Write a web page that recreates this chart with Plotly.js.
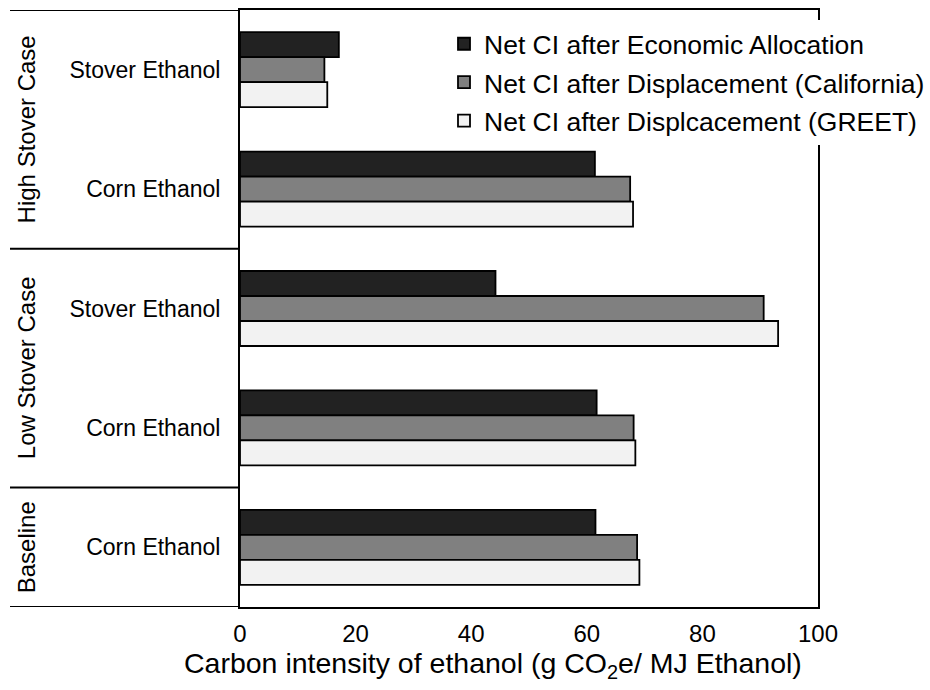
<!DOCTYPE html>
<html>
<head>
<meta charset="utf-8">
<script src="https://cdn.plot.ly/plotly-3.0.1.min.js"></script>
<style>
  html, body { margin: 0; padding: 0; background: #ffffff; }
  #chart { width: 930px; height: 690px; }
</style>
</head>
<body>
<div id="chart"></div>
<script>
// Fuel pathways, listed top to bottom
const categories = ['Stover Ethanol', 'Corn Ethanol', 'Stover Ethanol', 'Corn Ethanol', 'Corn Ethanol'];
// Scenario each pathway belongs to
const scenarios = ['High Stover Case', 'Low Stover Case', 'Baseline'];
const scenarioMembers = [[0, 1], [2, 3], [4]];

// Net carbon intensity (g CO2e / MJ ethanol)
const seriesNames = [
  'Net CI after Economic Allocation',
  'Net CI after Displacement (California)',
  'Net CI after Displcacement (GREET)'
];
const economicAllocation = [17.1, 61.4, 44.2, 61.7, 61.5];
const displacementCalifornia = [14.6, 67.5, 90.6, 68.1, 68.7];
const displacementGreet = [15.1, 68.0, 93.1, 68.4, 69.1];

const xTickValues = [0, 20, 40, 60, 80, 100];
const xTitle = 'Carbon intensity of ethanol (g CO<sub>2</sub>e/ MJ Ethanol)';

const fills = ['#222222', '#808080', '#f2f2f2'];
const seriesValues = [economicAllocation, displacementCalifornia, displacementGreet];
const positions = categories.map((_, i) => i);

const font = 'Liberation Sans, Arial, sans-serif';

const traces = seriesValues.map((vals, k) => ({
  type: 'bar',
  orientation: 'h',
  name: seriesNames[k],
  legendgroup: 'g' + k,
  x: vals,
  y: positions,
  marker: { color: fills[k], line: { color: '#000000', width: 1.8 } },
  hoverinfo: 'x+name'
}));

// Plot area in pixels: x 240..818, y 10..607
const plotLeft = 240, plotWidth = 578, plotTop = 10, plotHeight = 597;
const px = p => (p - plotLeft) / plotWidth;
const py = p => 1 - (p - plotTop) / plotHeight;

const shapes = [];
// horizontal rules of the scenario grouping on the left
const bounds = [-0.5, 1.5, 3.5, 4.5];
bounds.forEach(b => {
  shapes.push({
    type: 'line', xref: 'paper', yref: 'y',
    x0: px(10), x1: 0, y0: b, y1: b,
    line: { color: '#000000', width: 2 }
  });
});

const annotations = scenarios.map((s, i) => {
  const m = scenarioMembers[i];
  return {
    text: s, xref: 'paper', yref: 'y',
    x: px(26), y: (m[0] + m[m.length - 1]) / 2,
    textangle: -90, showarrow: false,
    xanchor: 'center', yanchor: 'middle',
    font: { family: font, size: 24, color: '#000000' }
  };
});

// x-axis title, set a little left of the plot centre
annotations.push({
  text: xTitle, xref: 'paper', yref: 'paper',
  x: px(493), y: py(665), xanchor: 'center', yanchor: 'middle',
  showarrow: false,
  font: { family: font, size: 28.5, color: '#000000' }
});

const layout = {
  width: 930, height: 690,
  margin: { l: 240, r: 112, t: 10, b: 83, autoexpand: false },
  paper_bgcolor: '#ffffff', plot_bgcolor: '#ffffff',
  barmode: 'group', bargap: 0.372, bargroupgap: 0,
  font: { family: font, size: 18, color: '#000000' },
  xaxis: {
    range: [0, 100], tickvals: xTickValues, ticks: '',
    showgrid: false, zeroline: false, automargin: false,
    showline: true, mirror: true, linecolor: '#000000', linewidth: 2,
    ticklabelstandoff: 4,
    tickfont: { family: font, size: 24 }
  },
  yaxis: {
    range: [4.5, -0.5], tickvals: positions, ticktext: categories,
    ticks: '', showgrid: false, zeroline: false, automargin: false,
    showline: true, mirror: true, linecolor: '#000000', linewidth: 2,
    ticklabelstandoff: 13,
    tickfont: { family: font, size: 23 }
  },
  legend: {
    x: px(444), y: py(20), xanchor: 'left', yanchor: 'top',
    bgcolor: '#ffffff', borderwidth: 0,
    traceorder: 'grouped', tracegroupgap: 1,
    font: { family: font, size: 26.5, color: '#000000' }
  },
  shapes: shapes,
  annotations: annotations,
  showlegend: true
};

Plotly.newPlot('chart', traces, layout, { displayModeBar: false, staticPlot: true });
</script>
</body>
</html>
